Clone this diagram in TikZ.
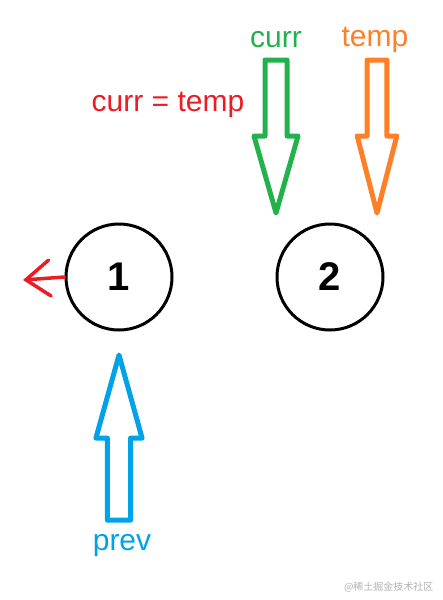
\documentclass[tikz,border=0pt]{standalone}
\usepackage{fontspec}
\setmainfont{Liberation Sans}
\newfontfamily\cjkfont{Noto Sans CJK SC}
\usepackage{tikz}
\usetikzlibrary{positioning,calc,arrows.meta}
\definecolor{PaintGreen}{RGB}{34,177,76}
\definecolor{PaintOrange}{RGB}{255,127,39}
\definecolor{PaintRed}{RGB}{237,28,36}
\definecolor{PaintBlue}{RGB}{0,162,232}
\tikzset{
  listnode/.style={circle,draw=black,line width=3pt,minimum size=106pt,inner sep=0pt,
    font=\fontsize{40}{40}\selectfont\bfseries},
  lbl/.style={font=\fontsize{30}{30}\selectfont,inner sep=0pt},
  ptr/.style={line width=5pt,line join=round,fill=white},
  nullptr/.style={draw=PaintRed,line width=3.5pt,line cap=round,
    -{Straight Barb[length=24pt,width=36pt,line cap=round]}},
  blockarrow/.pic={
    \draw[pic actions] (0,0) -- (-22,-77) -- (-11,-77) -- (-11,-153)
      -- (11,-153) -- (11,-77) -- (22,-77) -- cycle;
  },
}

\begin{document}
\begin{tikzpicture}[x=1pt,y=-1pt]
  \useasboundingbox (0,0) rectangle (442,600);

  % list nodes
  \node[listnode] (n1) at (119,277) {1};
  \node[listnode] (n2) at (330,277) {2};

  % 1 -> null after reversing
  \coordinate (nullend) at (23,280);
  \draw[nullptr] (n1.west) -- (nullend);

  % pointers
  \pic[ptr,draw=PaintGreen] at (276,213) {blockarrow};
  \pic[ptr,draw=PaintOrange,xscale=0.9] at (377,213) {blockarrow};
  \pic[ptr,draw=PaintBlue,rotate=180,yscale=1.08,xscale=1.05] at (119,355) {blockarrow};

  \node[lbl,text=PaintGreen] (currlbl) at (276,40) {curr};
  \node[lbl,text=PaintOrange] (templbl) at (375,40) {temp};
  \node[lbl,text=PaintRed] (note) at (168,105) {curr = temp};
  \node[lbl,text=PaintBlue] (prevlbl) at (122,546) {prev};

  \node[font=\cjkfont\fontsize{10}{10}\selectfont,text=black!30,anchor=east] (wm) at (437,587) {@稀土掘金技术社区};
\end{tikzpicture}
\end{document}
